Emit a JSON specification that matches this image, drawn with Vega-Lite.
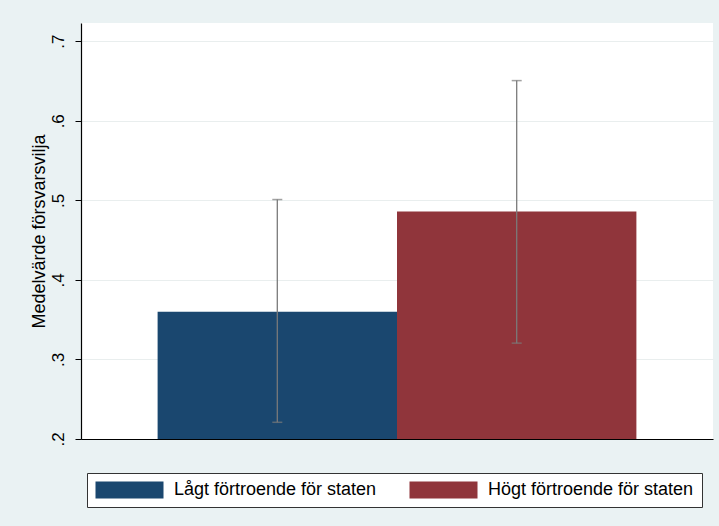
{
  "$schema": "https://vega.github.io/schema/vega-lite/v6.json",
  "width": 632,
  "height": 416,
  "autosize": {"type": "none"},
  "padding": {"left": 81, "top": 23, "right": 6, "bottom": 87},
  "background": "#EAF2F3",
  "config": {
    "view": {"fill": "white", "stroke": null},
    "font": "Liberation Sans",
    "legend": {"strokeWidth": 1}
  },
  "data": {
    "values": [
      {"group": "Lågt förtroende för staten", "mean": 0.360, "lo": 0.221, "hi": 0.501},
      {"group": "Högt förtroende för staten", "mean": 0.486, "lo": 0.3205, "hi": 0.6505}
    ]
  },
  "encoding": {
    "x": {
      "field": "group", "type": "nominal",
      "sort": ["Lågt förtroende för staten", "Högt förtroende för staten"],
      "scale": {"paddingInner": 0, "paddingOuter": 0.32},
      "axis": {"domain": true, "domainColor": "#000000", "domainWidth": 1.2, "ticks": false, "labels": false, "title": null, "grid": false}
    }
  },
  "layer": [
    {
      "mark": {"type": "bar", "clip": true},
      "encoding": {
        "y": {
          "field": "mean", "type": "quantitative",
          "scale": {"domain": [0.2, 0.7229], "nice": false, "zero": false},
          "axis": {
            "title": "Medelvärde försvarsvilja",
            "titleFontSize": 18, "titleFontWeight": "normal", "titleColor": "#000000", "titlePadding": 1,
            "values": [0.2, 0.3, 0.4, 0.5, 0.6, 0.7],
            "labelExpr": "replace(format(datum.value, '.1f'), '0.', '.')",
            "labelAngle": -90, "labelAlign": "center", "labelBaseline": "bottom",
            "labelFontSize": 17, "labelColor": "#000000", "labelPadding": 8,
            "domainColor": "#000000", "domainWidth": 1.2,
            "tickColor": "#000000", "tickSize": 6, "tickWidth": 1,
            "grid": true, "gridColor": "#e9eeee", "gridWidth": 1
          }
        },
        "color": {
          "field": "group", "type": "nominal",
          "scale": {"domain": ["Lågt förtroende för staten", "Högt förtroende för staten"], "range": ["#1A476F", "#90353B"]},
          "legend": {
            "title": null, "orient": "none", "legendX": 6, "legendY": 450,
            "direction": "horizontal",
            "symbolType": "M-4,-1H4V1H-4Z", "symbolSize": 289, "symbolOffset": 25.5,
            "symbolStrokeWidth": 0,
            "labelFontSize": 18, "labelColor": "#000000", "labelLimit": 400, "labelOffset": 35.5,
            "columnPadding": 32, "padding": 8,
            "fillColor": "#ffffff", "strokeColor": "#333333"
          }
        }
      }
    },
    {
      "mark": {"type": "rule", "color": "#7a7a7a", "strokeWidth": 1.3},
      "encoding": {
        "y": {"field": "lo", "type": "quantitative"},
        "y2": {"field": "hi"}
      }
    },
    {
      "mark": {"type": "tick", "color": "#7a7a7a", "size": 10, "thickness": 1.5},
      "encoding": {"y": {"field": "hi", "type": "quantitative"}}
    },
    {
      "mark": {"type": "tick", "color": "#7a7a7a", "size": 10, "thickness": 1.5},
      "encoding": {"y": {"field": "lo", "type": "quantitative"}}
    }
  ]
}
